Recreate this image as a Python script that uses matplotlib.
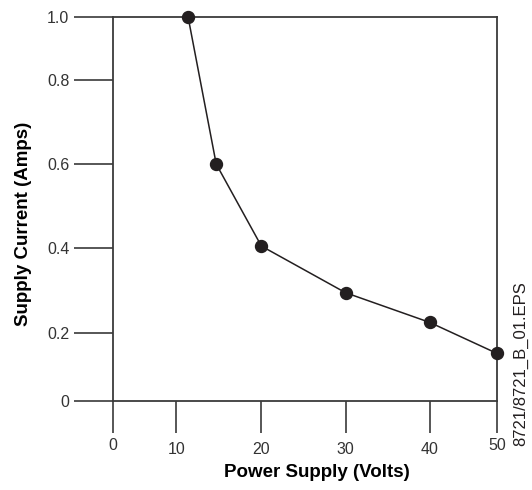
import numpy as np
import matplotlib
matplotlib.use("Agg")
import matplotlib.pyplot as plt
from matplotlib.transforms import ScaledTranslation

plt.rcParams['font.family'] = ['Liberation Sans', 'DejaVu Sans']

# Supply current drawn at each supply voltage
voltage = [11.4, 14.7, 20, 30, 40, 50]
current = [1.0, 0.60, 0.405, 0.295, 0.225, 0.14]

x_ticks = [0, 10, 20, 30, 40, 50]
x_tick_labels = ['0', '10', '20', '30', '40', '50']
y_ticks = [0, 0.2, 0.4, 0.6, 0.8, 1.0]
y_tick_labels = ['0', '0.2', '0.4', '0.6', '0.8', '1.0']

# The graph paper uses shorter first and last intervals: piecewise-linear axes
x_grid = [0.0, 0.1645, 0.3864, 0.6057, 0.825, 1.0]
y_grid = [0.0, 0.177, 0.398, 0.617, 0.836, 1.0]


def piecewise(vals, fracs):
    def fwd(v):
        return np.interp(v, vals, fracs)

    def inv(f):
        return np.interp(f, fracs, vals)
    return fwd, inv


ink = '#231f20'
frame = '#3a3a3a'

fig = plt.figure(figsize=(5.32, 4.90), dpi=100)
ax = fig.add_axes([113 / 532, 1 - 401 / 490, (497 - 113) / 532, (401 - 17) / 490])

ax.set_xscale('function', functions=piecewise(x_ticks, x_grid))
ax.set_yscale('function', functions=piecewise(y_ticks, y_grid))
ax.set_xlim(0, 50)
ax.set_ylim(0, 1.0)

ax.plot(voltage, current, '-', color=ink, lw=1.1, marker='o', ms=8.6,
        mfc=ink, mec=ink, clip_on=False, zorder=5)

for s in ax.spines.values():
    s.set_color(frame)
    s.set_linewidth(1.3)

ax.set_xticks(x_ticks)
ax.set_xticklabels(x_tick_labels)
ax.set_yticks(y_ticks)
ax.set_yticklabels(y_tick_labels)
ax.minorticks_off()

ax.tick_params(axis='y', direction='out', length=28, width=1.2, pad=3.5,
               labelsize=11.5, color=frame, labelcolor='#333333')
ax.tick_params(axis='x', direction='out', length=23, width=1.2, pad=6.5,
               labelsize=11.5, color=frame, labelcolor='#333333')

# the end labels of the voltage scale sit a little higher than the rest
lift = ScaledTranslation(0, 4 / 100, fig.dpi_scale_trans)
xlabels = ax.get_xticklabels()
for lbl in (xlabels[0], xlabels[-1]):
    lbl.set_transform(lbl.get_transform() + lift)

ax.set_xlabel('Power Supply (Volts)', fontsize=13.5, fontweight='bold', color='black')
ax.xaxis.set_label_coords(0.531, -0.165)
ax.set_ylabel('Supply Current (Amps)', fontsize=13.5, fontweight='bold', color='black')
ax.yaxis.set_label_coords(-0.211, 0.461)

fig.text(521 / 532, 1 - 364 / 490, '8721/8721_B_01.EPS', rotation=90,
         ha='center', va='center', fontsize=12, color='#231f20')

fig.savefig('out.png', dpi=100, facecolor='white')
